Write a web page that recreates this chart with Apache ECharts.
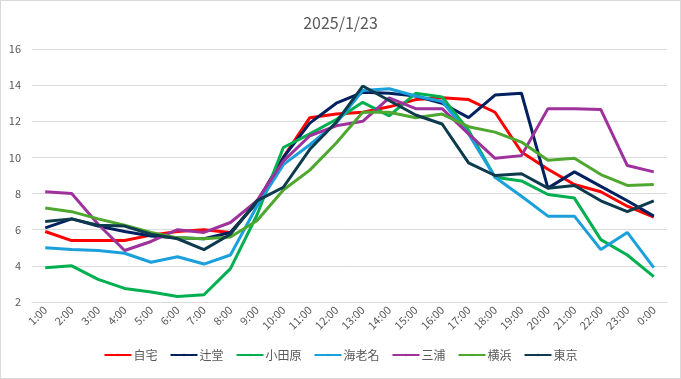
<!DOCTYPE html>
<html><head><meta charset="utf-8">
<script src="https://cdn.jsdelivr.net/npm/echarts@6/dist/echarts.min.js"></script>
<style>
html,body{margin:0;padding:0;background:#fff;}
#c{position:absolute;left:0;top:0;width:679px;height:377px;border:1px solid #d9d9d9;}
</style></head>
<body><div id="c"></div>
<script>
const categories = ['1:00','2:00','3:00','4:00','5:00','6:00','7:00','8:00','9:00','10:00','11:00','12:00','13:00','14:00','15:00','16:00','17:00','18:00','19:00','20:00','21:00','22:00','23:00','0:00'];
const seriesNames = ['自宅','辻堂','小田原','海老名','三浦','横浜','東京'];
const jitaku   = [5.9,5.4,5.4,5.4,5.7,5.9,6.0,5.85,7.5,10.0,12.2,12.4,12.5,12.8,13.2,13.3,13.2,12.5,10.3,9.35,8.5,8.1,7.3,6.7];
const tsujido  = [6.1,6.6,6.2,5.9,5.65,5.55,5.5,5.85,7.5,10.0,11.9,13.0,13.6,13.55,13.4,13.0,12.2,13.45,13.55,8.3,9.2,8.4,7.6,6.75];
const odawara  = [3.9,4.0,3.25,2.75,2.55,2.3,2.4,3.85,6.8,10.55,11.3,12.1,13.05,12.3,13.55,13.35,11.5,8.9,8.7,7.95,7.75,5.45,4.6,3.4];
const ebina    = [5.0,4.9,4.85,4.7,4.2,4.5,4.1,4.6,7.3,9.6,10.7,11.9,13.7,13.8,13.4,13.1,11.3,8.9,7.85,6.75,6.75,4.9,5.85,3.9];
const miura    = [8.1,8.0,6.3,4.85,5.35,6.0,5.85,6.4,7.6,9.8,11.2,11.75,12.0,13.3,12.7,12.7,11.3,9.95,10.1,12.7,12.7,12.65,9.55,9.2];
const yokohama = [7.2,7.0,6.6,6.25,5.85,5.55,5.5,5.6,6.5,8.2,9.3,10.8,12.5,12.5,12.2,12.4,11.7,11.4,10.85,9.85,9.95,9.05,8.45,8.5];
const tokyo    = [6.45,6.6,6.25,6.2,5.75,5.5,4.9,5.75,7.6,8.35,10.45,11.95,13.95,13.15,12.35,11.85,9.7,9.0,9.1,8.3,8.45,7.6,7.0,7.6];
const yTicks = {min:2, max:16, interval:2};
const colors = ['#FF0000','#002060','#00B050','#1AA0DB','#9E319C','#4EA72E','#0E3A4E'];
const data = [jitaku,tsujido,odawara,ebina,miura,yokohama,tokyo];

const chart = echarts.init(document.getElementById('c'));
const font = '"Noto Sans CJK JP", "Noto Sans", sans-serif';
chart.setOption({
  animation:false,
  color: colors,
  textStyle:{fontFamily:font},
  title:{text:'2025/1/23', left:'center', top:9, textStyle:{fontSize:16, fontWeight:'normal', color:'#595959', fontFamily:font}},
  grid:{left:31, right:13, top:48, bottom:76, containLabel:false},
  legend:{bottom:12, left:'center', itemWidth:27, itemHeight:3, itemGap:12,
    textStyle:{color:'#595959', fontSize:12, fontFamily:font, padding:[0,0,0,-3]},
    data: seriesNames},
  xAxis:{type:'category', data:categories, boundaryGap:true,
    axisLine:{show:true, lineStyle:{color:'#d9d9d9', width:1}},
    axisTick:{show:false},
    axisLabel:{rotate:45, color:'#595959', fontSize:11, margin:6, interval:0, fontFamily:font}},
  yAxis:{type:'value', min:yTicks.min, max:yTicks.max, interval:yTicks.interval,
    axisLine:{show:false}, axisTick:{show:false},
    axisLabel:{color:'#595959', fontSize:11, margin:11, fontFamily:font},
    splitLine:{lineStyle:{color:'#d9d9d9', width:1}}},
  series: seriesNames.map((n,i)=>({name:n, type:'line', data:data[i], symbol:'none',
    lineStyle:{width:3, color:colors[i]}, itemStyle:{color:colors[i]}}))
});
</script></body></html>
